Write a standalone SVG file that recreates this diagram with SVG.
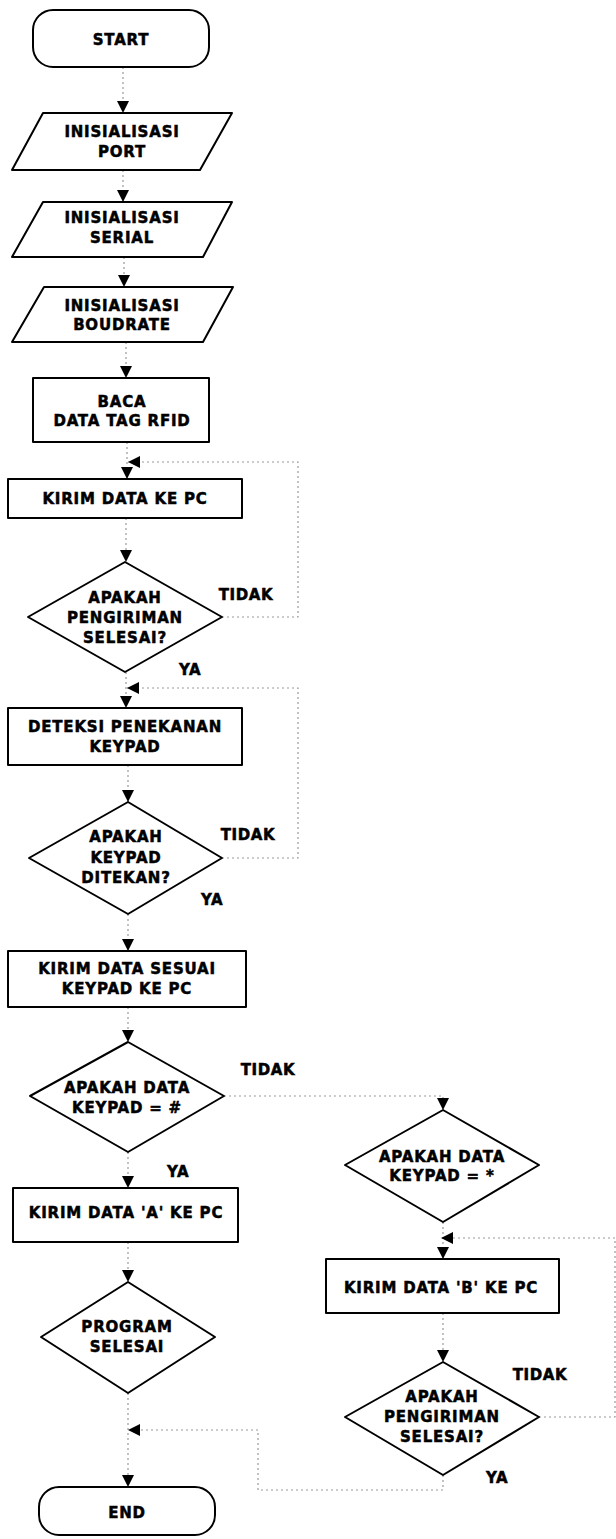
<svg xmlns="http://www.w3.org/2000/svg" width="616" height="1539" viewBox="0 0 616 1539">
<style>
.shape{fill:#fff;stroke:#000;stroke-width:2;stroke-linejoin:round}
.t{font-family:"DejaVu Sans","Liberation Sans",sans-serif;font-weight:bold;font-size:15px;letter-spacing:0.8px;text-anchor:middle;fill:#000;stroke:#000;stroke-width:0.5}
.lbl{font-family:"DejaVu Sans","Liberation Sans",sans-serif;font-weight:bold;font-size:15px;letter-spacing:0.6px;text-anchor:middle;fill:#000;stroke:#000;stroke-width:0.5}
.c{fill:none;stroke:#999;stroke-width:1.2;stroke-dasharray:2 3;marker-end:url(#arr)}
</style>
<defs>
<marker id="arr" viewBox="0 0 12 12" refX="12" refY="6" markerWidth="12" markerHeight="12" orient="auto" markerUnits="userSpaceOnUse">
<path d="M0,0 L12,6 L0,12 z" fill="#000"/>
</marker>
</defs>
<rect width="616" height="1539" fill="#fff"/>

<g id="connectors">
<path class="c" d="M123,67 L123,113"/>
<path class="c" d="M123,170 L123,202"/>
<path class="c" d="M124,257 L124,287"/>
<path class="c" d="M126,342 L126,378"/>
<path class="c" d="M127,442 L127,479"/>
<path class="c" d="M126,518 L126,562"/>
<path class="c" d="M126,672 L126,708"/>
<path class="c" d="M222,617 L298,617 L298,462 L128,462"/>
<path class="c" d="M128,765 L128,802"/>
<path class="c" d="M222,858 L298,858 L298,688 L127,688"/>
<path class="c" d="M128,914 L128,951"/>
<path class="c" d="M128,1007 L128,1042"/>
<path class="c" d="M128,1152 L128,1188"/>
<path class="c" d="M224,1096 L443,1096 L443,1110"/>
<path class="c" d="M128,1242 L128,1282"/>
<path class="c" d="M128,1393 L128,1487"/>
<path class="c" d="M443,1222 L443,1259"/>
<path class="c" d="M443,1313 L443,1362"/>
<path class="c" d="M539,1417 L615,1417 L615,1238 L441,1238"/>
<path class="c" d="M443,1475 L443,1490 L258,1490 L258,1430 L128,1430"/>
<text class="lbl" x="246" y="600">TIDAK</text>
<text class="lbl" x="190" y="675">YA</text>
<text class="lbl" x="248" y="840">TIDAK</text>
<text class="lbl" x="212" y="905">YA</text>
<text class="lbl" x="268" y="1075">TIDAK</text>
<text class="lbl" x="178" y="1177">YA</text>
<text class="lbl" x="540" y="1380">TIDAK</text>
<text class="lbl" x="497" y="1483">YA</text>
</g>

<g id="start">
<rect class="shape" x="33" y="10" width="176" height="57" rx="20" ry="20"/>
<text class="t" x="121" y="45">START</text>
</g>
<g id="init-port">
<polygon class="shape" points="43,113 232,113 200,170 12,170"/>
<text class="t" x="122" y="137">INISIALISASI</text>
<text class="t" x="122" y="157">PORT</text>
</g>
<g id="init-serial">
<polygon class="shape" points="43,202 232,202 203,257 12,257"/>
<text class="t" x="122" y="223">INISIALISASI</text>
<text class="t" x="122" y="243">SERIAL</text>
</g>
<g id="init-boudrate">
<polygon class="shape" points="44,287 233,287 203,342 12,342"/>
<text class="t" x="122" y="311">INISIALISASI</text>
<text class="t" x="122" y="330">BOUDRATE</text>
</g>
<g id="baca">
<rect class="shape" x="33" y="378" width="176" height="64"/>
<text class="t" x="122" y="407">BACA</text>
<text class="t" x="122" y="426">DATA TAG RFID</text>
</g>
<g id="kirim-pc">
<rect class="shape" x="8" y="479" width="234" height="39"/>
<text class="t" x="125" y="504">KIRIM DATA KE PC</text>
</g>
<g id="cek-kirim1">
<polygon class="shape" points="125,562 222,617 125,672 28,617"/>
<text class="t" x="125" y="603">APAKAH</text>
<text class="t" x="125" y="623">PENGIRIMAN</text>
<text class="t" x="125" y="643">SELESAI?</text>
</g>
<g id="deteksi">
<rect class="shape" x="8" y="708" width="234" height="57"/>
<text class="t" x="125" y="732">DETEKSI PENEKANAN</text>
<text class="t" x="125" y="752">KEYPAD</text>
</g>
<g id="cek-keypad">
<polygon class="shape" points="128,802 222,858 128,914 29,858"/>
<text class="t" x="126" y="842">APAKAH</text>
<text class="t" x="126" y="863">KEYPAD</text>
<text class="t" x="126" y="883">DITEKAN?</text>
</g>
<g id="kirim-sesuai">
<rect class="shape" x="8" y="951" width="238" height="56"/>
<text class="t" x="127" y="974">KIRIM DATA SESUAI</text>
<text class="t" x="127" y="994">KEYPAD KE PC</text>
</g>
<g id="cek-pagar">
<polygon class="shape" points="128,1042 224,1096 128,1152 30,1096"/>
<text class="t" x="127" y="1093">APAKAH DATA</text>
<text class="t" x="127" y="1113">KEYPAD = #</text>
</g>
<g id="kirim-a">
<rect class="shape" x="13" y="1188" width="225" height="54"/>
<text class="t" x="126" y="1218">KIRIM DATA 'A' KE PC</text>
</g>
<g id="program-selesai">
<polygon class="shape" points="128,1282 215,1337 128,1393 41,1337"/>
<text class="t" x="127" y="1332">PROGRAM</text>
<text class="t" x="127" y="1352">SELESAI</text>
</g>
<g id="end">
<rect class="shape" x="39" y="1487" width="176" height="48" rx="20" ry="20"/>
<text class="t" x="127" y="1518">END</text>
</g>
<g id="cek-bintang">
<polygon class="shape" points="443,1110 539,1165 443,1222 345,1165"/>
<text class="t" x="442" y="1162">APAKAH DATA</text>
<text class="t" x="442" y="1181">KEYPAD = *</text>
</g>
<g id="kirim-b">
<rect class="shape" x="326" y="1259" width="233" height="54"/>
<text class="t" x="441" y="1293">KIRIM DATA 'B' KE PC</text>
</g>
<g id="cek-kirim2">
<polygon class="shape" points="443,1362 539,1417 443,1475 345,1417"/>
<text class="t" x="442" y="1402">APAKAH</text>
<text class="t" x="442" y="1422">PENGIRIMAN</text>
<text class="t" x="442" y="1442">SELESAI?</text>
</g>
</svg>
